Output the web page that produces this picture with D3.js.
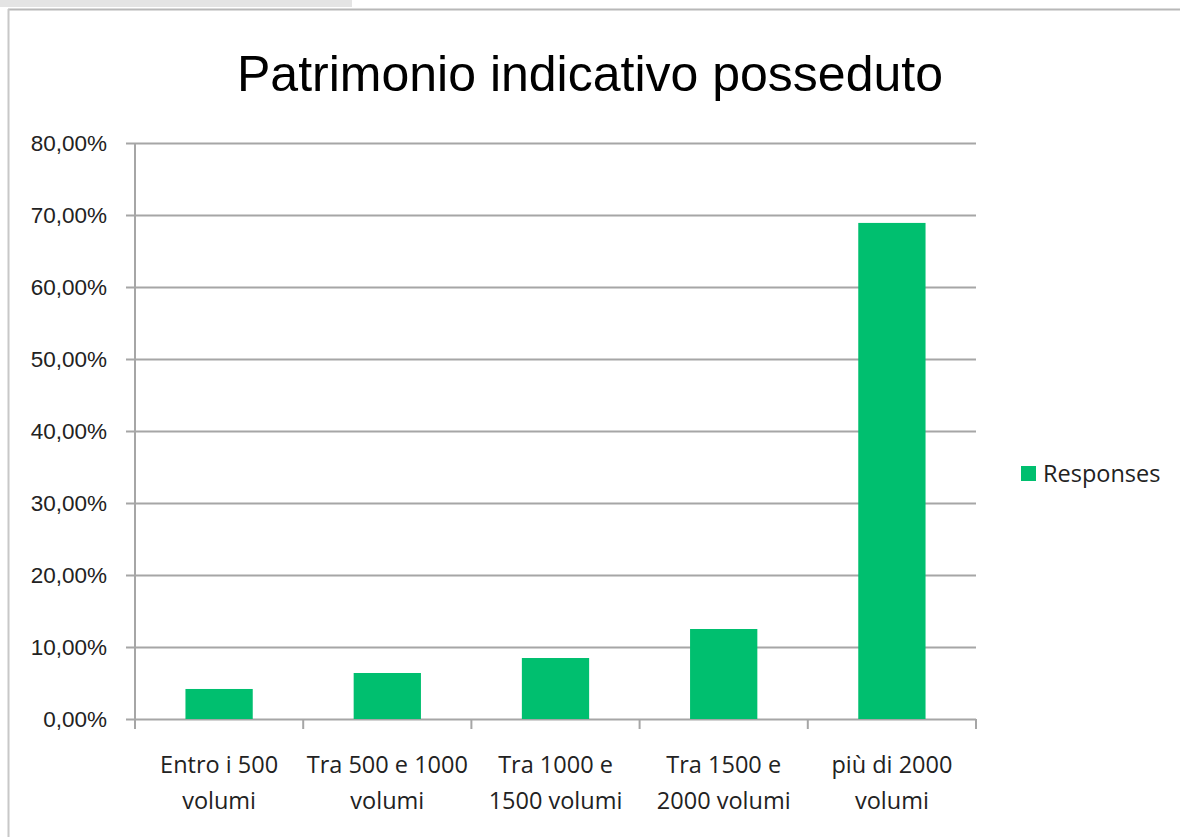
<!DOCTYPE html>
<html>
<head>
<meta charset="UTF-8">
<title>Patrimonio indicativo posseduto</title>
<script src="https://d3js.org/d3.v7.min.js"></script>
<style>
  body { margin: 0; background: #fff; }
</style>
</head>
<body>
<div id="chart"></div>
<script>
// data
var categories = [
  ["Entro i 500", "volumi"],
  ["Tra 500 e 1000", "volumi"],
  ["Tra 1000 e", "1500 volumi"],
  ["Tra 1500 e", "2000 volumi"],
  ["più di 2000", "volumi"]
];
var responses = [4.17, 6.39, 8.47, 12.5, 68.9];
var yTicks = [0, 10, 20, 30, 40, 50, 60, 70, 80];
var seriesName = "Responses";

var width = 1180, height = 837;
var margin = {top: 143, right: 204, bottom: 118, left: 135};
var green = "#00BF6F";

var svg = d3.select("#chart").append("svg")
  .attr("width", width)
  .attr("height", height);

// window frame at top
svg.append("rect").attr("x", 0).attr("y", 0).attr("width", 352).attr("height", 7).attr("fill", "#e4e4e4");
svg.append("line").attr("x1", 8).attr("x2", width).attr("y1", 9.5).attr("y2", 9.5)
  .attr("stroke", "#b8b8b8").attr("stroke-width", 2);
svg.append("line").attr("x1", 8.5).attr("x2", 8.5).attr("y1", 9).attr("y2", height)
  .attr("stroke", "#c8c8c8").attr("stroke-width", 2);

var x = d3.scaleBand()
  .domain(d3.range(categories.length))
  .range([margin.left, width - margin.right])
  .paddingInner(0.6).paddingOuter(0.3);

var y = d3.scaleLinear()
  .domain([0, 80])
  .range([height - margin.bottom, margin.top]);

// title
svg.append("text")
  .attr("x", 590).attr("y", 91)
  .attr("text-anchor", "middle")
  .attr("font-family", "Liberation Sans, Arial, sans-serif")
  .attr("font-size", 50)
  .attr("fill", "#000")
  .text("Patrimonio indicativo posseduto");

// gridlines + y axis
var yAxis = d3.axisLeft(y)
  .tickValues(yTicks)
  .tickSize(-(width - margin.left - margin.right))
  .tickPadding(28)
  .tickFormat(function(d) { return d3.format(".2f")(d).replace(".", ",") + "%"; });

var gy = svg.append("g")
  .attr("transform", "translate(" + margin.left + ",0)")
  .call(yAxis);
gy.select(".domain").remove();
gy.selectAll(".tick line")
  .attr("x1", -9)
  .attr("stroke", "#a6a6a6").attr("stroke-width", 2);
gy.selectAll(".tick text")
  .attr("font-family", "Liberation Sans, Arial, sans-serif")
  .attr("font-size", 22.5)
  .attr("fill", "#222");

// y axis line
svg.append("line")
  .attr("x1", margin.left).attr("x2", margin.left)
  .attr("y1", y(80)).attr("y2", y(0) + 10)
  .attr("stroke", "#a6a6a6").attr("stroke-width", 2);

// x axis category boundary ticks
var bounds = d3.range(categories.length + 1).map(function(i) { return margin.left + i * (width - margin.left - margin.right) / categories.length; });
svg.append("g").selectAll("line")
  .data(bounds)
  .enter().append("line")
  .attr("x1", function(d) { return d; }).attr("x2", function(d) { return d; })
  .attr("y1", y(0)).attr("y2", y(0) + 10)
  .attr("stroke", "#a6a6a6").attr("stroke-width", 2);

// bars
svg.append("g").selectAll("rect")
  .data(responses)
  .enter().append("rect")
  .attr("x", function(d, i) { return x(i); })
  .attr("width", x.bandwidth())
  .attr("y", function(d) { return y(d); })
  .attr("height", function(d) { return y(0) - y(d); })
  .attr("fill", green);

// x labels
var lab = svg.append("g").selectAll("text")
  .data(categories)
  .enter().append("text")
  .attr("text-anchor", "middle")
  .attr("font-family", "Open Sans, sans-serif")
  .attr("font-size", 23.5)
  .attr("fill", "#222")
  .attr("transform", function(d, i) { return "translate(" + (x(i) + x.bandwidth() / 2) + ",0)"; });
lab.selectAll("tspan")
  .data(function(d) { return d; })
  .enter().append("tspan")
  .attr("x", 0)
  .attr("y", function(d, j) { return 773 + j * 36; })
  .text(function(d) { return d; });

// legend
svg.append("rect").attr("x", 1021).attr("y", 466).attr("width", 15).attr("height", 15).attr("fill", green);
svg.append("text")
  .attr("x", 1043).attr("y", 482)
  .attr("font-family", "Open Sans, sans-serif")
  .attr("font-size", 23.5)
  .attr("fill", "#222")
  .text(seriesName);
</script>
</body>
</html>
